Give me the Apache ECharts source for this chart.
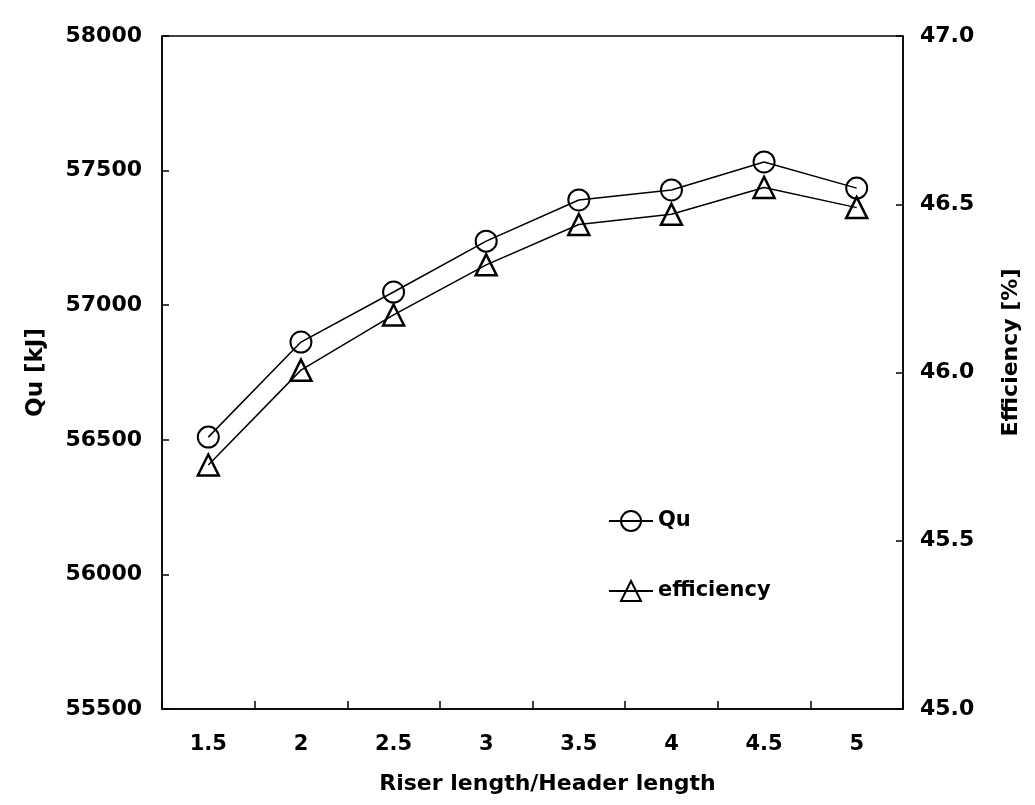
<!DOCTYPE html>
<html><head><meta charset="utf-8">
<script src="https://cdn.jsdelivr.net/npm/echarts@6/dist/echarts.min.js"></script>
<style>html,body{margin:0;padding:0;background:#fff}#c{width:1035px;height:805px}</style>
</head><body><div id="c"></div>
<script>
const categories = ['1.5','2','2.5','3','3.5','4','4.5','5'];
const quValues = [56510, 56863, 57049, 57238, 57391, 57428, 57532, 57435];
const effValues = [45.725, 46.007, 46.171, 46.32, 46.44, 46.47, 46.55, 46.49];
const leftTicks = {min: 55500, max: 58000, interval: 500};
const rightTicks = {min: 45.0, max: 47.0, interval: 0.5};

const F = '"DejaVu Sans", sans-serif';
const chart = echarts.init(document.getElementById('c'), null, {renderer: 'canvas'});
chart.setOption({
  animation: false,
  backgroundColor: '#fff',
  grid: {left: 162, right: 132, top: 36, bottom: 96, show: true, borderColor: '#000', borderWidth: 1.5},
  legend: {
    orient: 'vertical', left: 608, top: 510, padding: 0, itemGap: 48, itemWidth: 44, itemHeight: 25, itemTextGap: 8,
    textStyle: {fontFamily: F, fontWeight: 'bold', fontSize: 21, color: '#000'},
    data: ['Qu', 'efficiency']
  },
  xAxis: {
    type: 'category', data: categories, boundaryGap: true,
    name: 'Riser length/Header length', nameLocation: 'middle', nameGap: 64,
    nameTextStyle: {fontFamily: F, fontWeight: 'bold', fontSize: 22, color: '#000', padding: [0, 0, 0, 30]},
    axisLine: {lineStyle: {color: '#000', width: 1.5}},
    axisTick: {show: true, interval: 0, inside: true, length: 8, lineStyle: {color: '#000', width: 1.5}},
    axisLabel: {fontFamily: F, fontWeight: 'bold', fontSize: 21, color: '#000', margin: 25, interval: 0},
    splitLine: {show: false}
  },
  yAxis: [{
    type: 'value', position: 'left', min: leftTicks.min, max: leftTicks.max, interval: leftTicks.interval,
    name: 'Qu [kJ]', nameLocation: 'middle', nameGap: 114, nameRotate: 90,
    nameTextStyle: {fontFamily: F, fontWeight: 'bold', fontSize: 23, color: '#000'},
    axisLine: {show: true, lineStyle: {color: '#000', width: 1.5}},
    axisTick: {show: true, inside: true, length: 7, lineStyle: {color: '#000', width: 1.5}},
    axisLabel: {fontFamily: F, fontWeight: 'bold', fontSize: 22, color: '#000', margin: 20,
      formatter: v => String(v)},
    splitLine: {show: false}
  }, {
    type: 'value', position: 'right', min: rightTicks.min, max: rightTicks.max, interval: rightTicks.interval,
    name: 'Efficiency [%]', nameLocation: 'middle', nameGap: 97, nameRotate: 90,
    nameTextStyle: {fontFamily: F, fontWeight: 'bold', fontSize: 22, color: '#000', padding: [0, 0, 0, 40]},
    axisLine: {show: true, lineStyle: {color: '#000', width: 1.5}},
    axisTick: {show: true, inside: true, length: 7, lineStyle: {color: '#000', width: 1.5}},
    axisLabel: {fontFamily: F, fontWeight: 'bold', fontSize: 22, color: '#000', margin: 17,
      formatter: v => v.toFixed(1)},
    splitLine: {show: false}
  }],
  series: [{
    name: 'Qu', type: 'line', yAxisIndex: 0, data: quValues,
    symbol: 'circle', symbolSize: 21,
    lineStyle: {color: '#000', width: 1.5},
    itemStyle: {color: 'transparent', borderColor: '#000', borderWidth: 2}
  }, {
    name: 'efficiency', type: 'line', yAxisIndex: 1, data: effValues,
    symbol: 'triangle', symbolSize: 21,
    lineStyle: {color: '#000', width: 1.5},
    itemStyle: {color: 'transparent', borderColor: '#000', borderWidth: 2.5}
  }]
});
</script></body></html>
